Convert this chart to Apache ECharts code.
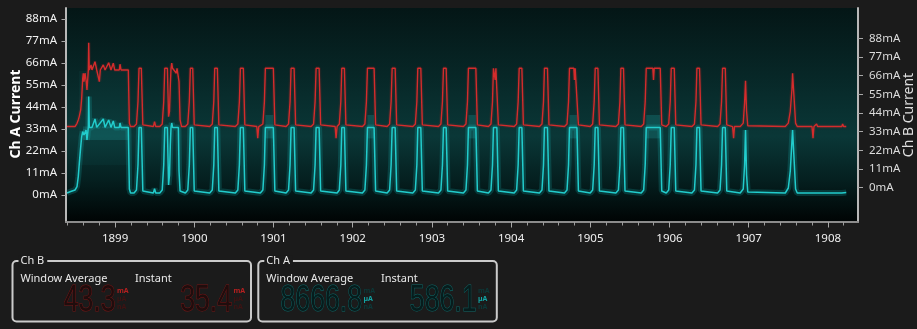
<!DOCTYPE html>
<html><head><meta charset="utf-8">
<script src="https://cdn.jsdelivr.net/npm/echarts@6/dist/echarts.min.js"></script>
<style>html,body{margin:0;padding:0;background:#1b1b1b;overflow:hidden}#c{width:917px;height:329px}</style>
</head><body><div id="c"></div>
<script>
// ---- axis ticks / labels ----
const xTickLabels = [1899, 1900, 1901, 1902, 1903, 1904, 1905, 1906, 1907, 1908];
const chATickValues = [0, 11, 22, 33, 44, 55, 66, 77, 88];
const chBTickValues = [0, 11, 22, 33, 44, 55, 66, 77, 88];
const xRange = [1898.38, 1908.38];
const chARange = [-13.5, 93.5];
const chBRange = [-20.2, 105.8];

// ---- Ch B trace (red, right axis) [time, mA] ----
const chBTrace = [
[1898.393,36.0],[1898.431,36.0],[1898.494,36.0],[1898.519,37.9],[1898.535,39.9],[1898.548,42.0],[1898.566,46.0],[1898.578,52.6],[1898.591,64.4],[1898.599,67.4],[1898.607,62.4],[1898.620,67.4],[1898.633,63.4],[1898.645,57.5],[1898.662,69.3],[1898.667,85.4],[1898.674,69.3],[1898.696,72.3],[1898.708,69.3],[1898.746,74.2],[1898.768,69.3],[1898.793,69.3],[1898.801,62.4],[1898.813,69.3],[1898.851,72.3],[1898.873,69.3],[1898.919,73.6],[1898.932,74.2],[1898.948,69.3],[1898.977,73.3],[1898.995,69.3],[1899.053,69.3],[1899.062,72.7],[1899.075,69.3],[1899.167,69.3],[1899.180,37.9],[1899.195,36.0],
[1899.239,36.0],[1899.270,37.5],[1899.289,50.6],[1899.302,70.3],[1899.331,70.3],[1899.350,37.0],[1899.369,36.0],
[1899.483,36.0],[1899.498,38.9],[1899.513,36.0],
[1899.564,36.0],[1899.595,37.5],[1899.614,50.6],[1899.627,70.3],[1899.660,70.3],[1899.675,41.8],[1899.687,45.0],[1899.697,60.0],[1899.706,70.3],[1899.715,73.3],[1899.725,70.3],[1899.773,67.4],[1899.782,70.3],[1899.799,70.3],[1899.807,62.4],[1899.820,40.0],[1899.839,36.0],
[1899.887,36.0],[1899.918,37.5],[1899.937,50.6],[1899.950,70.3],[1899.980,70.3],[1899.999,37.0],[1900.018,36.0],
[1900.195,36.0],[1900.227,37.5],[1900.246,50.6],[1900.258,70.3],[1900.291,70.3],[1900.310,37.0],[1900.329,36.0],
[1900.518,36.0],[1900.550,37.5],[1900.569,50.6],[1900.582,70.3],[1900.619,70.3],[1900.638,37.0],[1900.657,36.0],
[1900.789,36.0],[1900.801,29.1],[1900.814,36.0],
[1900.834,36.0],[1900.866,37.5],[1900.885,50.6],[1900.897,70.3],[1900.998,70.3],[1901.017,37.0],[1901.036,36.0],
[1901.159,36.0],[1901.190,37.5],[1901.209,50.6],[1901.222,70.3],[1901.260,70.3],[1901.279,37.0],[1901.298,36.0],
[1901.475,36.0],[1901.506,37.5],[1901.525,50.6],[1901.538,70.3],[1901.576,70.3],[1901.595,37.0],[1901.614,36.0],
[1901.778,36.0],[1901.790,29.1],[1901.803,36.0],[1901.831,37.5],[1901.850,50.6],[1901.862,70.3],[1901.895,70.3],[1901.914,37.0],[1901.933,36.0],
[1902.123,36.0],[1902.154,37.5],[1902.173,50.6],[1902.186,70.3],[1902.270,70.3],[1902.289,37.0],[1902.308,36.0],
[1902.435,36.0],[1902.466,37.5],[1902.485,50.6],[1902.498,70.3],[1902.536,70.3],[1902.555,37.0],[1902.574,36.0],
[1902.759,36.0],[1902.791,37.5],[1902.810,50.6],[1902.822,70.3],[1902.860,70.3],[1902.879,37.0],[1902.898,36.0],
[1903.083,36.0],[1903.114,37.5],[1903.133,50.6],[1903.146,70.3],[1903.180,70.3],[1903.199,37.0],[1903.218,36.0],
[1903.398,36.0],[1903.430,37.5],[1903.449,50.6],[1903.461,70.3],[1903.555,70.3],[1903.574,37.0],[1903.593,36.0],
[1903.714,36.0],[1903.746,37.5],[1903.765,50.6],[1903.777,70.3],[1903.790,70.3],[1903.799,63.4],[1903.808,70.3],[1903.820,70.3],[1903.839,37.0],[1903.858,36.0],
[1904.039,36.0],[1904.070,37.5],[1904.089,50.6],[1904.102,70.3],[1904.136,70.3],[1904.155,37.0],[1904.174,36.0],
[1904.358,36.0],[1904.390,37.5],[1904.409,50.6],[1904.421,70.3],[1904.459,70.3],[1904.478,37.0],[1904.497,36.0],
[1904.674,36.0],[1904.706,37.5],[1904.725,50.6],[1904.737,70.3],[1904.792,70.3],[1904.800,63.4],[1904.809,70.3],[1904.831,70.3],[1904.850,37.0],[1904.869,36.0],
[1904.999,36.0],[1905.030,37.5],[1905.049,50.6],[1905.062,70.3],[1905.096,70.3],[1905.115,37.0],[1905.134,36.0],
[1905.323,36.0],[1905.355,37.5],[1905.374,50.6],[1905.386,70.3],[1905.419,70.3],[1905.438,37.0],[1905.457,36.0],
[1905.643,36.0],[1905.674,37.5],[1905.693,50.6],[1905.706,70.3],[1905.789,70.3],[1905.798,63.4],[1905.807,70.3],[1905.883,70.3],[1905.902,37.0],[1905.921,36.0],
[1905.959,36.0],[1905.990,37.5],[1906.009,50.6],[1906.022,70.3],[1906.060,70.3],[1906.079,37.0],[1906.098,36.0],
[1906.283,36.0],[1906.315,37.5],[1906.334,50.6],[1906.346,70.3],[1906.379,70.3],[1906.398,37.0],[1906.417,36.0],
[1906.607,36.0],[1906.638,37.5],[1906.657,50.6],[1906.670,70.3],[1906.704,70.3],[1906.723,37.0],[1906.742,36.0],
[1906.796,36.0],[1906.809,29.1],[1906.821,36.0],
[1906.893,36.0],[1906.931,38.0],[1906.948,50.0],[1906.960,63.0],[1906.973,45.0],[1906.988,36.5],[1907.007,36.0],
[1907.462,36.0],[1907.500,38.0],[1907.525,45.0],[1907.546,58.0],[1907.554,67.4],[1907.575,67.4],[1907.592,38.0],[1907.613,36.0],
[1907.799,36.0],[1907.812,29.1],[1907.824,36.0],
[1907.847,36.0],[1907.857,37.5],[1907.870,36.0],
[1908.175,36.0],[1908.186,37.5],[1908.198,36.0],[1908.232,36.0]
];

// ---- Ch A trace (cyan, left axis) [time, mA] ----
const chATrace = [
[1898.393,1.0],[1898.431,1.6],[1898.494,2.5],[1898.519,4.2],[1898.535,9.2],[1898.548,15.8],[1898.566,24.2],[1898.578,29.2],[1898.591,31.7],[1898.599,31.2],[1898.607,30.0],[1898.620,31.0],[1898.633,32.5],[1898.645,27.5],[1898.662,33.8],[1898.667,49.2],[1898.674,33.8],[1898.696,34.5],[1898.708,33.8],[1898.746,38.0],[1898.768,33.8],[1898.851,38.0],[1898.873,33.8],[1898.919,37.5],[1898.932,38.0],[1898.948,33.8],[1898.977,37.0],[1898.995,33.8],[1899.053,33.8],[1899.062,36.0],[1899.075,33.8],[1899.167,33.8],[1899.180,3.0],[1899.195,1.0],
[1899.239,1.0],[1899.270,2.5],[1899.289,15.0],[1899.302,33.8],[1899.331,33.8],[1899.350,2.0],[1899.369,1.0],
[1899.483,1.0],[1899.498,3.2],[1899.513,1.0],
[1899.564,1.0],[1899.595,2.5],[1899.614,15.0],[1899.627,33.8],[1899.660,33.8],[1899.675,5.0],[1899.687,10.0],[1899.697,25.0],[1899.706,33.8],[1899.715,36.0],[1899.725,33.8],[1899.799,33.8],[1899.807,12.0],[1899.820,2.0],[1899.839,1.0],
[1899.887,1.0],[1899.918,2.5],[1899.937,15.0],[1899.950,33.8],[1899.980,33.8],[1899.999,2.0],[1900.018,1.0],
[1900.195,1.0],[1900.227,2.5],[1900.246,15.0],[1900.258,33.8],[1900.291,33.8],[1900.310,2.0],[1900.329,1.0],
[1900.518,1.0],[1900.550,2.5],[1900.569,15.0],[1900.582,33.8],[1900.619,33.8],[1900.638,2.0],[1900.657,1.0],
[1900.834,1.0],[1900.866,2.5],[1900.885,15.0],[1900.897,33.8],[1900.998,33.8],[1901.017,2.0],[1901.036,1.0],
[1901.159,1.0],[1901.190,2.5],[1901.209,15.0],[1901.222,33.8],[1901.260,33.8],[1901.279,2.0],[1901.298,1.0],
[1901.475,1.0],[1901.506,2.5],[1901.525,15.0],[1901.538,33.8],[1901.576,33.8],[1901.595,2.0],[1901.614,1.0],
[1901.803,1.0],[1901.831,2.5],[1901.850,15.0],[1901.862,33.8],[1901.895,33.8],[1901.914,2.0],[1901.933,1.0],
[1902.123,1.0],[1902.154,2.5],[1902.173,15.0],[1902.186,33.8],[1902.270,33.8],[1902.289,2.0],[1902.308,1.0],
[1902.435,1.0],[1902.466,2.5],[1902.485,15.0],[1902.498,33.8],[1902.536,33.8],[1902.555,2.0],[1902.574,1.0],
[1902.759,1.0],[1902.791,2.5],[1902.810,15.0],[1902.822,33.8],[1902.860,33.8],[1902.879,2.0],[1902.898,1.0],
[1903.083,1.0],[1903.114,2.5],[1903.133,15.0],[1903.146,33.8],[1903.180,33.8],[1903.199,2.0],[1903.218,1.0],
[1903.398,1.0],[1903.430,2.5],[1903.449,15.0],[1903.461,33.8],[1903.555,33.8],[1903.574,2.0],[1903.593,1.0],
[1903.714,1.0],[1903.746,2.5],[1903.765,15.0],[1903.777,33.8],[1903.820,33.8],[1903.839,2.0],[1903.858,1.0],
[1904.039,1.0],[1904.070,2.5],[1904.089,15.0],[1904.102,33.8],[1904.136,33.8],[1904.155,2.0],[1904.174,1.0],
[1904.358,1.0],[1904.390,2.5],[1904.409,15.0],[1904.421,33.8],[1904.459,33.8],[1904.478,2.0],[1904.497,1.0],
[1904.674,1.0],[1904.706,2.5],[1904.725,15.0],[1904.737,33.8],[1904.831,33.8],[1904.850,2.0],[1904.869,1.0],
[1904.999,1.0],[1905.030,2.5],[1905.049,15.0],[1905.062,33.8],[1905.096,33.8],[1905.115,2.0],[1905.134,1.0],
[1905.323,1.0],[1905.355,2.5],[1905.374,15.0],[1905.386,33.8],[1905.419,33.8],[1905.438,2.0],[1905.457,1.0],
[1905.643,1.0],[1905.674,2.5],[1905.693,15.0],[1905.706,33.8],[1905.883,33.8],[1905.902,2.0],[1905.921,1.0],
[1905.959,1.0],[1905.990,2.5],[1906.009,15.0],[1906.022,33.8],[1906.060,33.8],[1906.079,2.0],[1906.098,1.0],
[1906.283,1.0],[1906.315,2.5],[1906.334,15.0],[1906.346,33.8],[1906.379,33.8],[1906.398,2.0],[1906.417,1.0],
[1906.607,1.0],[1906.638,2.5],[1906.657,15.0],[1906.670,33.8],[1906.704,33.8],[1906.723,2.0],[1906.742,1.0],
[1906.893,1.0],[1906.931,3.0],[1906.948,15.0],[1906.960,32.5],[1906.973,10.0],[1906.988,1.5],[1907.007,1.0],
[1907.462,1.0],[1907.500,3.5],[1907.525,12.0],[1907.546,27.0],[1907.554,32.5],[1907.575,32.5],[1907.592,3.0],[1907.613,1.0],
[1907.847,1.0],[1907.857,1.8],[1907.870,1.0],
[1908.175,1.0],[1908.186,1.8],[1908.198,1.0],[1908.232,1.2]
];

// ---- Ch A min/max envelope bands [tStart, tEnd, low mA, high mA] ----
const chAEnvelopeDense = [
[1898.595,1899.167,27.5,34.2],[1900.897,1900.998,28.3,40.0],[1902.186,1902.270,28.3,40.0],
[1903.461,1903.555,28.3,40.0],[1904.737,1904.831,28.3,40.0],[1905.706,1905.883,28.3,40.0]
];
const chAEnvelopeFaint = [[1898.544,1899.167,15.0,62.0]];

// ---- meter panels ----
const chBWindowAverage = '43.3';
const chBInstant = '35.4';
const chAWindowAverage = '8666.8';
const chAInstant = '586.1';
const unitNames = ['mA', 'µA', 'nA'];

const xMinorTicks = [];
for (let k = 0; k <= 49; k++) xMinorTicks.push(+(1898.4 + k * 0.2).toFixed(1));

const chart = echarts.init(document.getElementById('c'), null, {renderer: 'canvas'});
const FONT = '"Noto Sans", "Open Sans", sans-serif';
const DIGIT_FONT = '36px "Liberation Sans", "DejaVu Sans", sans-serif';

function envelopeRenderer(fill) {
  return function (params, api) {
    const p0 = api.coord([api.value(0), api.value(3)]);
    const p1 = api.coord([api.value(1), api.value(2)]);
    return {type: 'rect', shape: {x: p0[0], y: p0[1], width: p1[0] - p0[0], height: p1[1] - p0[1]}, style: {fill: fill}};
  };
}

function digitText(text, xRight, colors) {
  return {type: 'text', x: xRight, y: 301.5, scaleX: 0.74, scaleY: 1,
          style: {text: text, font: DIGIT_FONT, fill: colors.fill, stroke: colors.stroke, lineWidth: 1, align: 'right', verticalAlign: 'middle'}};
}

function meter(x0, title, label2X, v1, v1Right, v2, v2Right, colors, unitOn) {
  const els = [
    {type: 'rect', shape: {x: x0, y: 261, width: 238.5, height: 60.5, r: 4}, style: {fill: 'rgba(0,0,0,0)', stroke: '#cbcbcb', lineWidth: 2}},
    {type: 'text', x: x0 + 6, y: 261, style: {text: title, fill: '#e8e8e8', font: '11px ' + FONT, verticalAlign: 'middle', backgroundColor: '#1b1b1b', padding: [0, 3, 0, 2]}},
    {type: 'text', x: x0 + 8, y: 279, style: {text: 'Window Average', fill: '#e8e8e8', font: '11px ' + FONT, verticalAlign: 'middle'}},
    {type: 'text', x: label2X, y: 279, style: {text: 'Instant', fill: '#e8e8e8', font: '11px ' + FONT, verticalAlign: 'middle'}},
    digitText(v1, v1Right, colors),
    digitText(v2, v2Right, colors)
  ];
  [v1Right, v2Right].forEach(function (ux) {
    unitNames.forEach(function (u, i) {
      els.push({type: 'text', x: ux + 1.5, y: 290.5 + i * 8, style: {text: u, font: 'bold 7px ' + FONT, fill: u === unitOn ? colors.unitOn : colors.unitOff, verticalAlign: 'middle'}});
    });
  });
  return els;
}

const redColors = {fill: '#1f0d0d', stroke: '#7a1616', unitOn: '#b52020', unitOff: '#3e1313'};
const tealColors = {fill: '#071c1c', stroke: '#0e6a6a', unitOn: '#13a5a5', unitOff: '#0c3838'};

const option = {
  backgroundColor: '#1b1b1b',
  animation: false,
  grid: {
    left: 66, right: 59, top: 8, bottom: 107, show: true, borderWidth: 0, outerBoundsMode: 'none',
    backgroundColor: new echarts.graphic.LinearGradient(0, 0, 0, 1, [
      {offset: 0, color: '#041616'},
      {offset: 0.3, color: '#072626'},
      {offset: 0.6, color: '#0a3737'},
      {offset: 0.8, color: '#052020'},
      {offset: 1, color: '#000404'}
    ])
  },
  xAxis: [
    {type: 'value', min: xRange[0], max: xRange[1], position: 'bottom',
     axisLine: {show: true, onZero: false, lineStyle: {color: '#8c8c8c', width: 2}},
     axisTick: {show: true, customValues: xMinorTicks, length: 3.5, lineStyle: {color: '#9c9c9c'}},
     axisLabel: {show: false}, splitLine: {show: false}},
    {type: 'value', min: xRange[0], max: xRange[1], position: 'bottom',
     axisLine: {show: false, onZero: false},
     axisTick: {show: true, customValues: xTickLabels, length: 5.5, lineStyle: {color: '#a8a8a8'}},
     axisLabel: {show: true, customValues: xTickLabels, margin: 11, color: '#f0f0f0', fontSize: 11.5, fontFamily: FONT,
                 formatter: function (v) { return String(Math.round(v)); }},
     splitLine: {show: false}}
  ],
  yAxis: [
    {type: 'value', min: chARange[0], max: chARange[1], position: 'left',
     axisLine: {show: true, onZero: false, lineStyle: {color: '#b8b8b8', width: 2}},
     axisTick: {show: true, customValues: chATickValues, length: 4.5, lineStyle: {color: '#a8a8a8'}},
     axisLabel: {customValues: chATickValues, margin: 9, color: '#f2f2f2', fontSize: 11.5, fontFamily: FONT,
                 formatter: function (v) { return v + 'mA'; }},
     splitLine: {show: false}},
    {type: 'value', min: chBRange[0], max: chBRange[1], position: 'right',
     axisLine: {show: true, onZero: false, lineStyle: {color: '#b8b8b8', width: 2}},
     axisTick: {show: true, customValues: chBTickValues, length: 5, lineStyle: {color: '#a8a8a8'}},
     axisLabel: {customValues: chBTickValues, margin: 11, color: '#dcdcdc', fontSize: 11.5, fontFamily: FONT,
                 formatter: function (v) { return v + 'mA'; }},
     splitLine: {show: false}}
  ],
  series: [
    {type: 'custom', name: 'Ch A envelope faint', xAxisIndex: 0, yAxisIndex: 0, silent: true,
     renderItem: envelopeRenderer('rgba(30,160,160,0.06)'), encode: {x: [0, 1], y: [2, 3]}, data: chAEnvelopeFaint},
    {type: 'custom', name: 'Ch A envelope', xAxisIndex: 0, yAxisIndex: 0, silent: true,
     renderItem: envelopeRenderer('rgba(30,150,150,0.28)'), encode: {x: [0, 1], y: [2, 3]}, data: chAEnvelopeDense},
    {type: 'line', name: 'Ch A glow', xAxisIndex: 0, yAxisIndex: 0, data: chATrace, showSymbol: false, symbol: 'none', silent: true,
     lineStyle: {color: 'rgba(25,190,190,0.20)', width: 6}},
    {type: 'line', name: 'Ch B glow', xAxisIndex: 0, yAxisIndex: 1, data: chBTrace, showSymbol: false, symbol: 'none', silent: true,
     lineStyle: {color: 'rgba(210,40,40,0.12)', width: 4}},
    {type: 'line', name: 'Ch B', xAxisIndex: 0, yAxisIndex: 1, data: chBTrace, showSymbol: false, symbol: 'none',
     lineStyle: {color: '#d42c2c', width: 1.4}},
    {type: 'line', name: 'Ch A', xAxisIndex: 0, yAxisIndex: 0, data: chATrace, showSymbol: false, symbol: 'none',
     lineStyle: {color: '#22cccc', width: 1.5}}
  ],
  graphic: [
    {type: 'text', x: 16, y: 114, rotation: Math.PI / 2,
     style: {text: 'Ch A Current', fill: '#ffffff', font: 'bold 14px ' + FONT, align: 'center', verticalAlign: 'middle'}},
    {type: 'text', x: 909, y: 115, rotation: Math.PI / 2,
     style: {text: 'Ch B Current', fill: '#dedede', font: '14px ' + FONT, align: 'center', verticalAlign: 'middle'}}
  ].concat(
    meter(12.5, 'Ch B', 135, chBWindowAverage, 115.5, chBInstant, 232, redColors, 'mA'),
    meter(258.3, 'Ch A', 381, chAWindowAverage, 362, chAInstant, 476.5, tealColors, 'µA')
  )
};
chart.setOption(option);
</script>
</body></html>
